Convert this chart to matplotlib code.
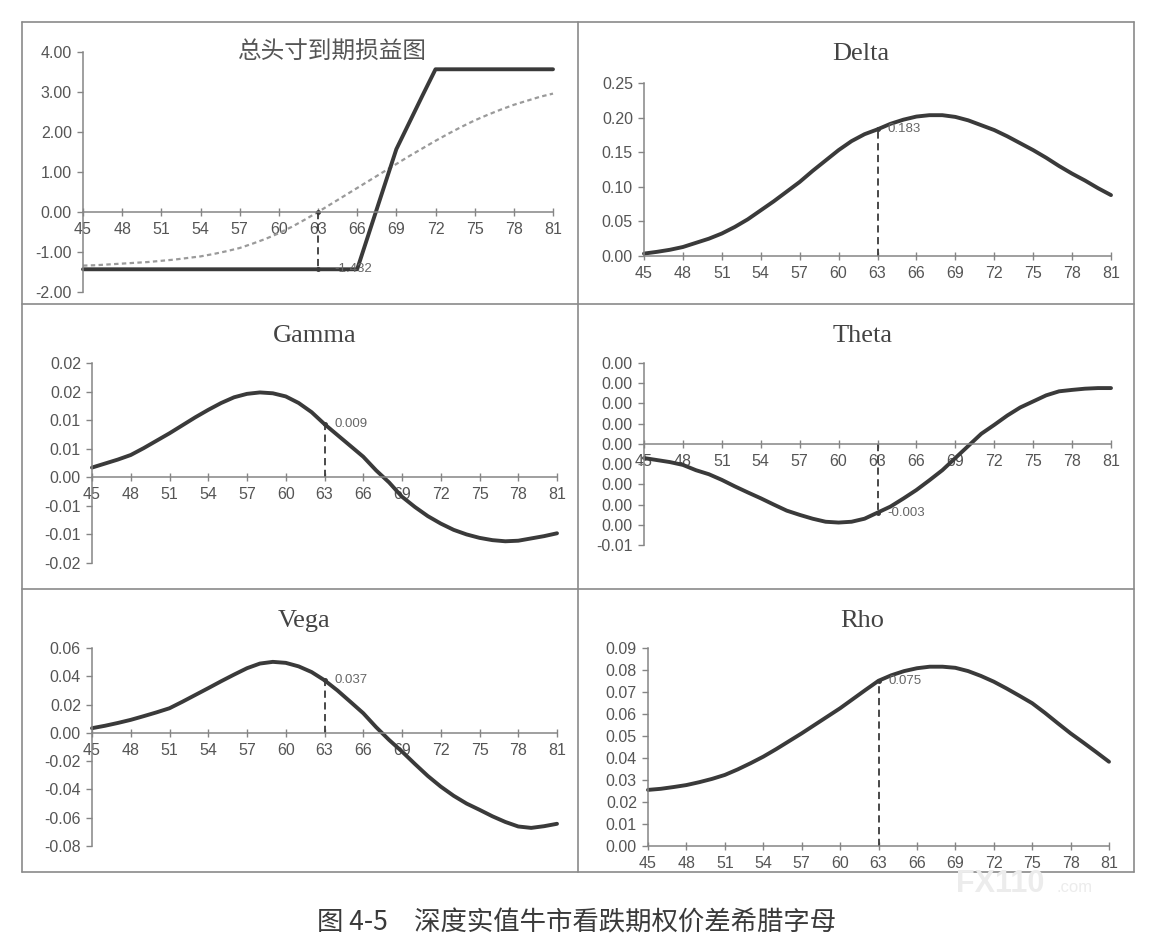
import matplotlib
matplotlib.use("Agg")
import matplotlib.pyplot as plt
from matplotlib.lines import Line2D

# underlying price grid (x axis)
prices = list(range(45, 82))
xticks = list(range(45, 82, 3))
mark_price = 63

# total position P&L at expiry (solid) and today (dotted)
pnl_expiry = [-1.432] * 22 + [-0.43, 0.57, 1.57, 2.24, 2.91] + [3.568] * 10
pnl_now = [-1.34, -1.33, -1.31, -1.29, -1.27, -1.25, -1.22, -1.19, -1.15, -1.11,
           -1.05, -0.98, -0.90, -0.79, -0.67, -0.53, -0.37, -0.19, 0.00, 0.20,
           0.40, 0.60, 0.80, 1.00, 1.20, 1.40, 1.59, 1.78, 1.96, 2.13,
           2.29, 2.43, 2.56, 2.68, 2.78, 2.88, 2.96]

delta = [0.0035, 0.006, 0.009, 0.013, 0.019, 0.025, 0.0325, 0.042, 0.053, 0.066,
         0.079, 0.093, 0.107, 0.123, 0.138, 0.153, 0.166, 0.176, 0.183, 0.191,
         0.197, 0.2015, 0.2035, 0.2035, 0.201, 0.196, 0.189, 0.182, 0.173, 0.163,
         0.153, 0.142, 0.130, 0.119, 0.109, 0.098, 0.088]

gamma = [0.0017, 0.0024, 0.0031, 0.0039, 0.0051, 0.0064, 0.0077, 0.0091, 0.0105, 0.0118,
         0.0130, 0.0140, 0.0146, 0.01485, 0.0147, 0.01415, 0.0130, 0.0114, 0.0093, 0.0074,
         0.0055, 0.0036, 0.0012, -0.0009, -0.0034, -0.0052, -0.0068, -0.0081, -0.0092, -0.0100,
         -0.0106, -0.0110, -0.0112, -0.0111, -0.0107, -0.0103, -0.0098]

theta = [-0.0007, -0.0008, -0.0009, -0.00104, -0.0013, -0.0015, -0.00178, -0.0021, -0.0024, -0.00269,
         -0.0030, -0.0033, -0.00351, -0.0037, -0.00385, -0.00389, -0.00385, -0.0037, -0.0034, -0.0031,
         -0.0027, -0.00228, -0.0018, -0.0013, -0.0007, -0.0001, 0.0005, 0.00094, 0.0014, 0.0018,
         0.0021, 0.0024, 0.0026, 0.00267, 0.00273, 0.00276, 0.00276]

vega = [0.0033, 0.0050, 0.0070, 0.0092, 0.0118, 0.0145, 0.0174, 0.0220, 0.0268, 0.0316,
        0.0365, 0.0412, 0.0457, 0.0490, 0.0502, 0.0495, 0.0470, 0.0430, 0.0372, 0.0300,
        0.0220, 0.0139, 0.0040, -0.0050, -0.0132, -0.0220, -0.0305, -0.0380, -0.0445, -0.0500,
        -0.0544, -0.0590, -0.0630, -0.0662, -0.0672, -0.0660, -0.0643]

rho = [0.0255, 0.0260, 0.0268, 0.0277, 0.0290, 0.0305, 0.0323, 0.0348, 0.0376, 0.0406,
       0.0440, 0.0476, 0.0512, 0.0550, 0.0588, 0.0626, 0.0668, 0.0710, 0.0751, 0.0776,
       0.0795, 0.0808, 0.0815, 0.0815, 0.0810, 0.0795, 0.0773, 0.0747, 0.0716, 0.0683,
       0.0649, 0.0605, 0.0558, 0.0512, 0.0470, 0.0427, 0.0383]

# y ticks as printed in the source (rounded labels)
pnl_yticks = [-2, -1, 0, 1, 2, 3, 4]
delta_yticks = [0, 0.05, 0.10, 0.15, 0.20, 0.25]
gamma_yticks = [-0.015, -0.01, -0.005, 0, 0.005, 0.01, 0.015, 0.02]
gamma_ylabels = ["-0.02", "-0.01", "-0.01", "0.00", "0.01", "0.01", "0.02", "0.02"]
theta_yticks = [-0.005, -0.004, -0.003, -0.002, -0.001, 0, 0.001, 0.002, 0.003, 0.004]
theta_ylabels = ["-0.01"] + ["0.00"] * 9
vega_yticks = [-0.08, -0.06, -0.04, -0.02, 0, 0.02, 0.04, 0.06]
rho_yticks = [0, 0.01, 0.02, 0.03, 0.04, 0.05, 0.06, 0.07, 0.08, 0.09]

W, H = 1153, 950
LINE = "#3a3a3a"
AXC = "#858585"
TXT = "#555555"
CJK = ["Noto Sans CJK SC", "DejaVu Sans"]

plt.rcParams["font.family"] = ["Liberation Sans", "DejaVu Sans"]
plt.rcParams["lines.solid_joinstyle"] = "round"
plt.rcParams["lines.solid_capstyle"] = "round"

fig = plt.figure(figsize=(W / 100, H / 100), dpi=100)
fig.patch.set_facecolor("white")


def px_axes(left, top, right, bottom):
    return fig.add_axes([left / W, 1 - bottom / H, (right - left) / W, (bottom - top) / H])


def style(ax, yticks, ylabels=None, fmt="{:.2f}"):
    ax.set_xlim(45, 81)
    ax.set_ylim(min(yticks), max(yticks))
    ax.set_xticks(xticks)
    ax.set_yticks(yticks)
    if ylabels is None:
        ylabels = [fmt.format(v) for v in yticks]
    ax.set_yticklabels(ylabels)
    for s in ["top", "right"]:
        ax.spines[s].set_visible(False)
    ax.spines["bottom"].set_position(("data", 0))
    for s in ["left", "bottom"]:
        ax.spines[s].set_color(AXC)
        ax.spines[s].set_linewidth(1.1)
    ax.tick_params(axis="x", direction="inout", length=6, width=1, color=AXC,
                   labelsize=11.5, labelcolor=TXT, pad=4)
    ax.tick_params(axis="y", direction="out", length=4, width=1, color=AXC,
                   labelsize=11.5, labelcolor=TXT, pad=4)
    ax.patch.set_alpha(0)


def mark(ax, values, digits=3, dx=7):
    v = values[prices.index(mark_price)]
    ax.plot([mark_price, mark_price], [0, v], color=LINE, lw=1.3, ls=(0, (4, 2.5)))
    ax.plot([mark_price], [v], marker="o", ms=2.5, color=LINE)
    ax.annotate(f"{v:.{digits}f}", (mark_price, v), xytext=(dx, 0),
                textcoords="offset points", va="center", ha="left",
                fontsize=9.5, color="#666666")


def title(x, y, text, **kw):
    fig.text(x / W, 1 - y / H, text, ha="center", va="center", **kw)


greek_font = dict(fontsize=19, color="#444444", family=["Liberation Serif", "DejaVu Serif"])

# total position payoff
ax = px_axes(83, 52, 553, 292)
style(ax, pnl_yticks)
ax.plot(prices, pnl_now, color="#9a9a9a", lw=1.6, ls=(0, (2, 1.5)), clip_on=False)
ax.plot(prices, pnl_expiry, color=LINE, lw=2.8, clip_on=False)
mark(ax, pnl_expiry, dx=12)
ax.plot([mark_price], [0], marker="o", ms=2.5, color=LINE)
title(332, 52, "总头寸到期损益图", fontsize=17, color="#555555", family=CJK)

# delta
ax = px_axes(644, 83, 1111, 256)
style(ax, delta_yticks)
ax.plot(prices, delta, color=LINE, lw=2.8, clip_on=False)
mark(ax, delta)
title(861, 54, "Delta", **greek_font)

# gamma
ax = px_axes(92, 363, 557, 563)
style(ax, gamma_yticks, gamma_ylabels)
ax.plot(prices, gamma, color=LINE, lw=2.8, clip_on=False)
mark(ax, gamma)
title(315, 336, "Gamma", **greek_font)

# theta
ax = px_axes(644, 363, 1111, 545)
style(ax, theta_yticks, theta_ylabels)
ax.plot(prices, theta, color=LINE, lw=2.8, clip_on=False)
mark(ax, theta)
title(863, 336, "Theta", **greek_font)

# vega
ax = px_axes(92, 648, 557, 846)
style(ax, vega_yticks)
ax.plot(prices, vega, color=LINE, lw=2.8, clip_on=False)
mark(ax, vega)
title(304, 621, "Vega", **greek_font)

# rho
ax = px_axes(648, 648, 1109, 846)
style(ax, rho_yticks)
ax.plot(prices, rho, color=LINE, lw=2.8, clip_on=False)
mark(ax, rho)
title(862, 621, "Rho", **greek_font)

# panel frame
def fline(x0, y0, x1, y1):
    fig.add_artist(Line2D([x0 / W, x1 / W], [1 - y0 / H, 1 - y1 / H],
                          transform=fig.transFigure, color="#8a8a8a", lw=1.2))


fline(22, 22, 1134, 22)
fline(22, 872, 1134, 872)
fline(22, 22, 22, 872)
fline(1134, 22, 1134, 872)
fline(578, 22, 578, 872)
fline(22, 304, 1134, 304)
fline(22, 589, 1134, 589)

# faint watermark and caption
fig.text(1000 / W, 1 - 884 / H, "FX110", ha="center", va="center", fontsize=22,
         fontweight="bold", color="#ececec")
fig.text(1075 / W, 1 - 888 / H, ".com", ha="center", va="center", fontsize=12,
         color="#ececec")
title(577, 923, "图 4-5\u3000深度实值牛市看跌期权价差希腊字母", fontsize=19,
      color="#3a3a3a", family=CJK)

fig.savefig("out.png", dpi=100, facecolor="white")
